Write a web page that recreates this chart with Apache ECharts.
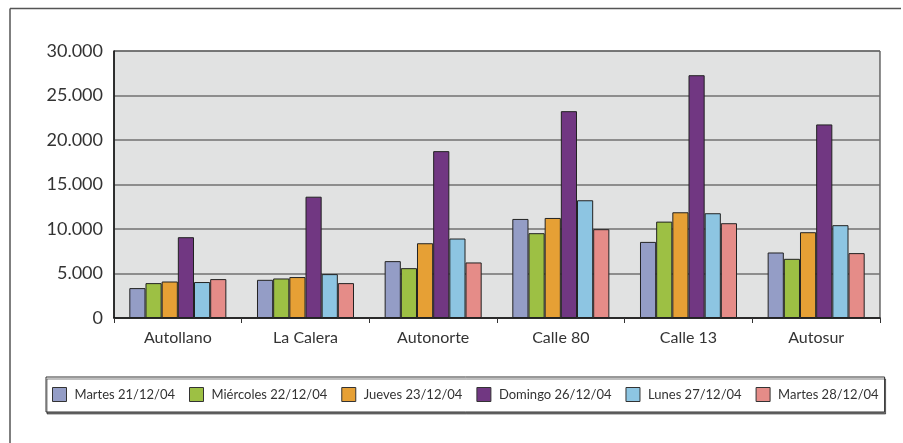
<!DOCTYPE html>
<html>
<head>
<meta charset="utf-8">
<script src="https://cdn.jsdelivr.net/npm/echarts@6/dist/echarts.min.js"></script>
<style>
  html, body { margin: 0; padding: 0; background: #fff; }
  #chart { width: 903px; height: 443px; }
</style>
</head>
<body>
<div id="chart"></div>
<script>
const categorias = ['Autollano', 'La Calera', 'Autonorte', 'Calle 80', 'Calle 13', 'Autosur']
const dias = ['Martes 21/12/04', 'Miércoles 22/12/04', 'Jueves 23/12/04', 'Domingo 26/12/04', 'Lunes 27/12/04', 'Martes 28/12/04']
const colores = ['#949dc6', '#9dc044', '#e6a035', '#713782', '#8dc5e2', '#e58c88']

const martes21 = [3360, 4290, 6390, 11130, 8550, 7360]
const miercoles22 = [3920, 4440, 5600, 9530, 10830, 6650]
const jueves23 = [4100, 4600, 8400, 11240, 11880, 9640]
const domingo26 = [9080, 13630, 18750, 23240, 27280, 21750]
const lunes27 = [4040, 4930, 8930, 13230, 11770, 10430]
const martes28 = [4370, 3920, 6240, 9980, 10650, 7290]

const valores = [martes21, miercoles22, jueves23, domingo26, lunes27, martes28]

const fuente = 'Lato'

const chart = echarts.init(document.getElementById('chart'))

chart.setOption({
    animation: false,
    textStyle: { fontFamily: fuente },
    color: colores,
    grid: {
        left: 114, right: 23, top: 51, bottom: 125,
        show: true,
        backgroundColor: '#e1e2e2',
        borderColor: '#222',
        borderWidth: 1
    },
    graphic: [
        { type: 'line', shape: { x1: 10, y1: 8.5, x2: 901, y2: 8.5 }, style: { stroke: '#555', lineWidth: 1.5 } },
        { type: 'line', shape: { x1: 10, y1: 8.5, x2: 10, y2: 443 }, style: { stroke: '#555', lineWidth: 1.5 } }
    ],
    xAxis: {
        type: 'category',
        data: categorias,
        axisLine: { lineStyle: { color: '#111', width: 1.5 } },
        axisTick: { show: true, length: 5, lineStyle: { color: '#333' } },
        axisLabel: { color: '#333', fontSize: 16, margin: 12, fontFamily: fuente }
    },
    yAxis: {
        type: 'value',
        min: 0, max: 30000, interval: 5000,
        axisLine: { show: true, lineStyle: { color: '#111', width: 1.5 } },
        axisTick: { show: false },
        splitLine: { lineStyle: { color: '#707070', width: 1.5 } },
        axisLabel: {
            color: '#333', fontSize: 18, margin: 11, fontFamily: fuente,
            formatter: v => v === 0 ? '0' : (v / 1000) + '.000'
        }
    },
    legend: {
        left: 46, top: 377,
        itemWidth: 14, itemHeight: 14, itemGap: 14,
        padding: [10, 6, 10, 6],
        borderColor: '#333', borderWidth: 1,
        shadowColor: 'rgba(0,0,0,0.5)', shadowOffsetX: 1, shadowOffsetY: 2, shadowBlur: 0,
        backgroundColor: '#fff',
        icon: 'rect',
        itemStyle: { borderColor: '#333', borderWidth: 1 },
        textStyle: { color: '#333', fontSize: 13, fontFamily: fuente, padding: [0, 0, 0, 3] },
        data: dias
    },
    series: dias.map((d, i) => ({
        name: d,
        type: 'bar',
        data: valores[i],
        barGap: '0%',
        barCategoryGap: '24%',
        itemStyle: { color: colores[i], borderColor: '#222', borderWidth: 1 }
    }))
})
</script>
</body>
</html>
